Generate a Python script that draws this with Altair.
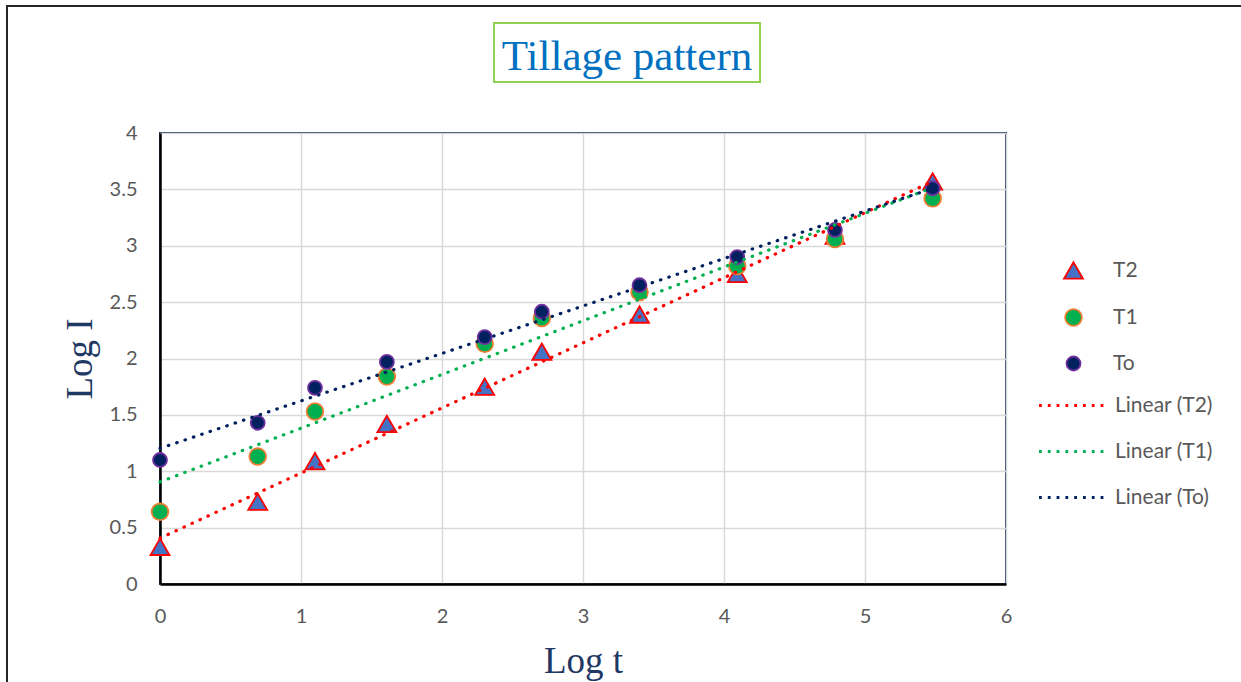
import altair as alt
import pandas as pd

# Log of elapsed time and log of cumulative infiltration for each tillage treatment
log_t = [0, 0.693, 1.099, 1.609, 2.303, 2.708, 3.401, 4.094, 4.787, 5.48]
log_i_t2 = [0.33, 0.73, 1.09, 1.42, 1.75, 2.06, 2.39, 2.75, 3.09, 3.57]
log_i_t1 = [0.64, 1.13, 1.53, 1.84, 2.13, 2.36, 2.59, 2.82, 3.06, 3.42]
log_i_to = [1.10, 1.43, 1.74, 1.97, 2.19, 2.415, 2.65, 2.90, 3.14, 3.51]

series_names = ["T2", "T1", "To"]
trend_names = ["Linear (T2)", "Linear (T1)", "Linear (To)"]
x_ticks = [0, 1, 2, 3, 4, 5, 6]
y_ticks = [0, 0.5, 1, 1.5, 2, 2.5, 3, 3.5, 4]

marker_shapes = ["triangle-up", "circle", "circle"]
marker_sizes = [360, 195, 195]
marker_fills = ["#4472C4", "#00B050", "#002060"]
marker_strokes = ["#FF0000", "#ED7D31", "#7030A0"]
trend_colors = ["#FF0000", "#00B050", "#002060"]

rows = []
for name, values in zip(series_names, [log_i_t2, log_i_t1, log_i_to]):
    for t, v in zip(log_t, values):
        rows.append({"x": t, "y": v, "series": name})
df = pd.DataFrame(rows)
df["idx"] = range(len(df))

W, H = 846, 451
LABEL_FONT = "Lato"
SERIF = "Liberation Serif"
AXIS_TITLE_COLOR = "#1F3864"

x_scale = alt.Scale(domain=[0, 6], nice=False, zero=False)
y_scale = alt.Scale(domain=[0, 4], nice=False, zero=False)

x_axis = alt.Axis(
    values=x_ticks, format="~g", title="Log t", labelFlush=False,
    titleX=W / 2, titleY=88, titleBaseline="alphabetic", titleAlign="center",
    labelPadding=22,
)
y_axis = alt.Axis(
    values=y_ticks, format="~g", title="Log I", labelFlush=False,
    titleX=-69, titleY=H / 2, titleBaseline="alphabetic", titleAlign="center",
    titleAngle=270, labelPadding=23,
)

points_legend = alt.Legend(
    title=None, orient="none", legendX=903, legendY=127,
    labelOffset=29, rowPadding=22, symbolStrokeWidth=1.8,
)

points = alt.Chart(df).mark_point(filled=True, opacity=1, strokeWidth=1.8).encode(
    x=alt.X("x:Q", scale=x_scale, axis=x_axis),
    y=alt.Y("y:Q", scale=y_scale, axis=y_axis),
    shape=alt.Shape("series:N", scale=alt.Scale(domain=series_names, range=marker_shapes), legend=points_legend),
    size=alt.Size("series:N", scale=alt.Scale(domain=series_names, range=marker_sizes), legend=points_legend),
    fill=alt.Fill("series:N", scale=alt.Scale(domain=series_names, range=marker_fills), legend=points_legend),
    stroke=alt.Stroke("series:N", scale=alt.Scale(domain=series_names, range=marker_strokes), legend=points_legend),
    order=alt.Order("idx:Q"),
)

trend_legend = alt.Legend(
    title=None, orient="none", legendX=877, legendY=262,
    labelOffset=4, rowPadding=24, clipHeight=21,
    symbolType="stroke", symbolSize=4900,
    symbolStrokeWidth=3.2, symbolDash=[2.8, 6.0],
)

trends = (
    alt.Chart(df)
    .transform_calculate(trend='"Linear (" + datum.series + ")"')
    .transform_regression("x", "y", groupby=["trend"])
    .mark_line(strokeWidth=3.2, strokeDash=[0.5, 8.3], strokeCap="round")
    .encode(
        x=alt.X("x:Q", scale=x_scale),
        y=alt.Y("y:Q", scale=y_scale),
        color=alt.Color("trend:N", scale=alt.Scale(domain=trend_names, range=trend_colors), legend=trend_legend),
    )
)

deco = pd.DataFrame({"label": ["Tillage pattern"]})

outer_frame = alt.Chart(deco).mark_rect(fillOpacity=0, stroke="#262626", strokeWidth=2).encode(
    x=alt.value(-153), x2=alt.value(1120), y=alt.value(-127), y2=alt.value(620)
)

title_box = alt.Chart(deco).mark_rect(fillOpacity=0, stroke="#92D050", strokeWidth=2).encode(
    x=alt.value(334), x2=alt.value(600), y=alt.value(-110), y2=alt.value(-51)
)

title_text = alt.Chart(deco).mark_text(
    font=SERIF, fontSize=43, color="#0070C0", align="center", baseline="alphabetic"
).encode(x=alt.value(467), y=alt.value(-63), text="label:N")

chart = (
    alt.layer(outer_frame, title_box, title_text, points, trends)
    .properties(
        width=W, height=H,
        padding={"left": 160, "top": 133, "right": 1241 - 160 - W, "bottom": 682 - 133 - H},
        autosize=alt.AutoSizeParams(type="none"),
        background="white",
    )
    .configure_view(stroke="#1F3864", strokeWidth=2)
    .configure_axis(
        grid=True, gridColor="#D9D9D9", gridWidth=1.5,
        domainColor="#000000", domainWidth=2.5,
        ticks=False, tickSize=0,
        labelFont=LABEL_FONT, labelFontSize=20, labelColor="#595959",
        titleFont=SERIF, titleFontSize=37, titleFontWeight="normal", titleColor=AXIS_TITLE_COLOR,
    )
    .configure_legend(labelFont=LABEL_FONT, labelFontSize=21, labelColor="#595959")
)

chart.save("out.html", embed_options={"renderer": "svg", "actions": False})
